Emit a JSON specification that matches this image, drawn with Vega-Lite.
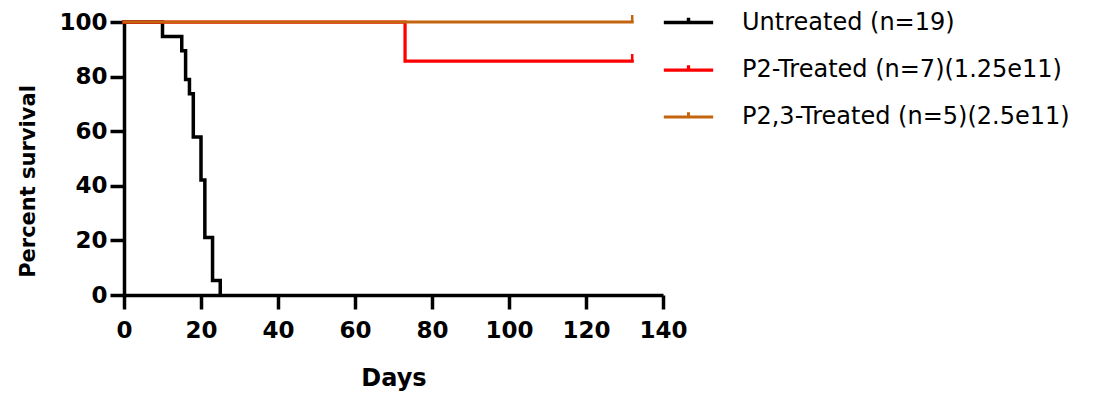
{
  "$schema": "https://vega.github.io/schema/vega-lite/v6.json",
  "width": 539,
  "height": 273,
  "autosize": "none",
  "padding": {"left": 124, "top": 22, "right": 444, "bottom": 103},
  "background": "white",
  "config": {
    "view": {"stroke": null},
    "font": "DejaVu Sans",
    "axis": {
      "domainColor": "black",
      "domainWidth": 3.5,
      "tickColor": "black",
      "tickWidth": 3.5,
      "tickSize": 14,
      "grid": false,
      "labelFont": "DejaVu Sans",
      "labelFontWeight": "bold",
      "labelFontSize": 23,
      "labelColor": "black",
      "labelPadding": 3,
      "labelFlush": false,
      "titleFont": "DejaVu Sans",
      "titleFontWeight": "bold",
      "titleFontSize": 20,
      "titleColor": "black"
    }
  },
  "datasets": {
    "curves": [
      {"group": "Untreated (n=19)", "day": 0, "survival": 100},
      {"group": "Untreated (n=19)", "day": 10, "survival": 94.7},
      {"group": "Untreated (n=19)", "day": 15, "survival": 89.5},
      {"group": "Untreated (n=19)", "day": 16, "survival": 78.9},
      {"group": "Untreated (n=19)", "day": 17, "survival": 73.7},
      {"group": "Untreated (n=19)", "day": 18, "survival": 57.9},
      {"group": "Untreated (n=19)", "day": 20, "survival": 42.1},
      {"group": "Untreated (n=19)", "day": 21, "survival": 21.1},
      {"group": "Untreated (n=19)", "day": 23, "survival": 5.3},
      {"group": "Untreated (n=19)", "day": 25, "survival": 0},
      {"group": "P2-Treated (n=7)(1.25e11)", "day": 0, "survival": 100},
      {"group": "P2-Treated (n=7)(1.25e11)", "day": 73, "survival": 85.7},
      {"group": "P2-Treated (n=7)(1.25e11)", "day": 132, "survival": 85.7},
      {"group": "P2,3-Treated (n=5)(2.5e11)", "day": 0, "survival": 100},
      {"group": "P2,3-Treated (n=5)(2.5e11)", "day": 132, "survival": 100}
    ],
    "censored": [
      {"group": "P2-Treated (n=7)(1.25e11)", "day": 132, "survival": 85.7},
      {"group": "P2,3-Treated (n=5)(2.5e11)", "day": 132, "survival": 100}
    ]
  },
  "layer": [
    {
      "data": {"name": "curves"},
      "mark": {"type": "line", "interpolate": "step-after", "strokeJoin": "miter", "strokeCap": "square"},
      "encoding": {
        "x": {
          "field": "day", "type": "quantitative",
          "scale": {"domain": [0, 140], "nice": false, "zero": false},
          "axis": {"values": [0, 20, 40, 60, 80, 100, 120, 140], "title": "Days", "titlePadding": 24, "titleFontSize": 24, "labelPadding": 10}
        },
        "y": {
          "field": "survival", "type": "quantitative",
          "scale": {"domain": [0, 100], "nice": false},
          "axis": {"values": [0, 20, 40, 60, 80, 100], "title": "Percent survival", "titlePadding": 20, "titleY": 159, "titleFontSize": 21}
        },
        "color": {
          "field": "group", "type": "nominal",
          "scale": {
            "domain": ["Untreated (n=19)", "P2-Treated (n=7)(1.25e11)", "P2,3-Treated (n=5)(2.5e11)"],
            "range": ["#000000", "#FF0000", "#C4640E"]
          },
          "legend": {
            "title": null,
            "orient": "none",
            "legendX": 539,
            "legendY": -25,
            "symbolType": "M-1.05,0L1.05,0M0,0L0,-0.2",
            "symbolSize": 2209,
            "symbolStrokeWidth": 3.5,
            "symbolFillColor": "transparent",
            "labelFont": "DejaVu Sans",
            "labelFontSize": 24,
            "labelColor": "black",
            "labelOffset": 28,
            "rowPadding": 9.5,
            "labelLimit": 400
          }
        },
        "strokeWidth": {
          "field": "group", "type": "nominal",
          "scale": {
            "domain": ["Untreated (n=19)", "P2-Treated (n=7)(1.25e11)", "P2,3-Treated (n=5)(2.5e11)"],
            "range": [3.5, 3, 2.3]
          },
          "legend": null
        },
        "order": {"field": "day", "type": "quantitative"}
      }
    },
    {
      "data": {"name": "censored"},
      "mark": {"type": "point", "shape": "M0,0L0,-1", "size": 196, "filled": false, "strokeWidth": 2.5, "opacity": 1},
      "encoding": {
        "x": {"field": "day", "type": "quantitative"},
        "y": {"field": "survival", "type": "quantitative"},
        "color": {"field": "group", "type": "nominal", "legend": null}
      }
    }
  ]
}
